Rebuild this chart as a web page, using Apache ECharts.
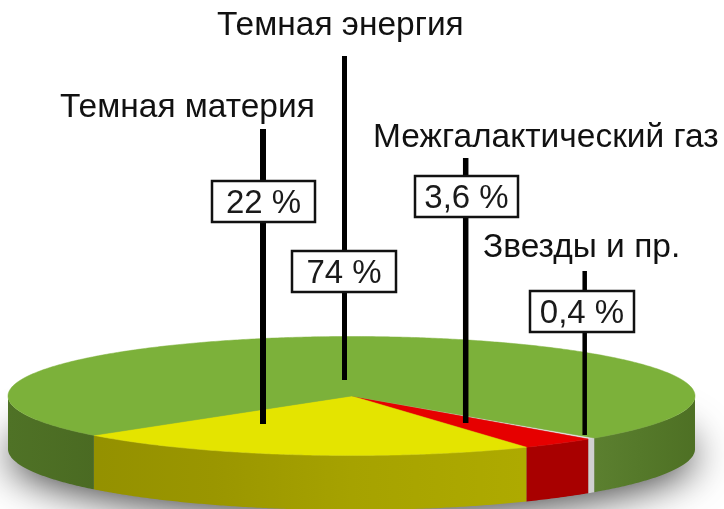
<!DOCTYPE html>
<html>
<head>
<meta charset="utf-8">
<style>
  html, body { margin: 0; padding: 0; background: #fff; }
  #chart { width: 724px; height: 509px; }
</style>
<script src="https://cdn.jsdelivr.net/npm/echarts@6/dist/echarts.min.js"></script>
</head>
<body>
<div id="chart"></div>
<script>
// slices go clockwise from the thin one at the front right
const categories = ['Звезды и пр.', 'Межгалактический газ', 'Темная материя', 'Темная энергия'];
const shares = [0.4, 3.6, 22, 74];

const topColors = ['#e4e4e4', '#e60000', '#e4e400', '#7cb13a'];
const sideStops = [
    [[0, '#d0d0d0'], [1, '#d0d0d0']],
    [[0, '#a80000'], [1, '#a80000']],
    [[0.1, '#939000'], [0.3, '#9a9600'], [0.5, '#a6a200'], [0.75, '#aeaa00']],
    [[0, '#4f7226'], [0.13, '#4a6a22'], [0.85, '#5c8030'], [0.92, '#55792a'], [1, '#4e7024']]
];

// pie geometry, in pixels
const pie = { cx: 351.5, cy: 396, rx: 343.5, ry: 59.5, bottomCy: 449, bottomRy: 61, startAngle: 45 };

// leader line and box of each callout
const callouts = [
    { lineX: 584.7, lineW: 4.5, y0: 271, y1: 435, box: [530, 291, 104, 41], nameX: 483, nameY: 265 },
    { lineX: 465.7, lineW: 5.5, y0: 158, y1: 423, box: [415, 176, 103, 41], nameX: 373, nameY: 155 },
    { lineX: 263, lineW: 6, y0: 129, y1: 424, box: [212, 181, 103, 41], nameX: 60, nameY: 125 },
    { lineX: 344.5, lineW: 5, y0: 56, y1: 380, box: [292, 251, 104, 41], nameX: 217, nameY: 43 }
];

const FONT = '"Liberation Sans", Arial, sans-serif';
const RAD = Math.PI / 180;

function sliceAngles(idx) {
    const total = shares.reduce((a, b) => a + b, 0);
    let from = pie.startAngle;
    for (let i = 0; i < idx; i++) from += shares[i] / total * 360;
    return [from, from + shares[idx] / total * 360];
}

function topPoint(a) {
    return [pie.cx + pie.rx * Math.cos(a * RAD), pie.cy + pie.ry * Math.sin(a * RAD)];
}

function bottomPoint(a) {
    return [pie.cx + pie.rx * Math.cos(a * RAD), pie.bottomCy + pie.bottomRy * Math.sin(a * RAD)];
}

function arcPoints(from, to, fn) {
    const pts = [];
    for (let a = from; a < to; a += 0.5) pts.push(fn(a));
    pts.push(fn(to));
    return pts;
}

// the part of the rim facing the viewer, 0..180 deg (and 360..540 after wrapping)
function visibleRanges(from, to) {
    const out = [];
    [[0, 180], [360, 540]].forEach(r => {
        const a = Math.max(from, r[0]);
        const b = Math.min(to, r[1]);
        if (b > a) out.push([a, b]);
    });
    return out;
}

function renderSlice(params, api) {
    const idx = api.value(1);
    const angles = sliceAngles(idx);
    const children = [];

    visibleRanges(angles[0], angles[1]).forEach(r => {
        const pts = arcPoints(r[0], r[1], topPoint).concat(arcPoints(r[0], r[1], bottomPoint).reverse());
        const fill = new echarts.graphic.LinearGradient(8, 0, 695, 0,
            sideStops[idx].map(s => ({ offset: s[0], color: s[1] })), true);
        children.push({ type: 'polygon', shape: { points: pts }, style: { fill: fill } });
    });

    const topPts = [[pie.cx, pie.cy]].concat(arcPoints(angles[0], angles[1], topPoint));
    children.push({
        type: 'polygon',
        shape: { points: topPts },
        style: { fill: topColors[idx], stroke: topColors[idx], lineWidth: 0.5 }
    });
    return { type: 'group', children: children };
}

function renderCallout(params, api) {
    const idx = api.value(1);
    const c = callouts[idx];
    const label = String(api.value(0)).replace('.', ',') + ' %';
    return {
        type: 'group',
        children: [
            {
                type: 'rect',
                shape: { x: c.lineX - c.lineW / 2, y: c.y0, width: c.lineW, height: c.y1 - c.y0 },
                style: { fill: '#000' }
            },
            {
                type: 'rect',
                shape: { x: c.box[0], y: c.box[1], width: c.box[2], height: c.box[3] },
                style: { fill: '#fff', stroke: '#111', lineWidth: 2.5 }
            },
            {
                type: 'text',
                x: c.box[0] + c.box[2] / 2,
                y: c.box[1] + c.box[3] / 2 + 2,
                style: { text: label, fill: '#1a1a1a', font: '33px ' + FONT, align: 'center', verticalAlign: 'middle' }
            },
            {
                type: 'text',
                x: c.nameX,
                y: c.nameY,
                style: { text: categories[idx], fill: '#111', font: '33.5px ' + FONT, align: 'left', verticalAlign: 'bottom' }
            }
        ]
    };
}

const chart = echarts.init(document.getElementById('chart'), null, { renderer: 'canvas' });
const rows = shares.map((v, i) => [v, i]);

chart.setOption({
    animation: false,
    backgroundColor: '#fff',
    graphic: [{
        type: 'ellipse',
        z: 0,
        shape: { cx: pie.cx, cy: pie.bottomCy - 4, rx: pie.rx, ry: pie.bottomRy },
        style: { fill: '#888', shadowBlur: 40, shadowColor: 'rgba(0,0,0,0.75)', shadowOffsetY: 10 }
    }],
    series: [
        { type: 'custom', coordinateSystem: 'none', z: 2, data: rows, renderItem: renderSlice, silent: true },
        { type: 'custom', coordinateSystem: 'none', z: 3, data: rows, renderItem: renderCallout, silent: true }
    ]
});
</script>
</body>
</html>
